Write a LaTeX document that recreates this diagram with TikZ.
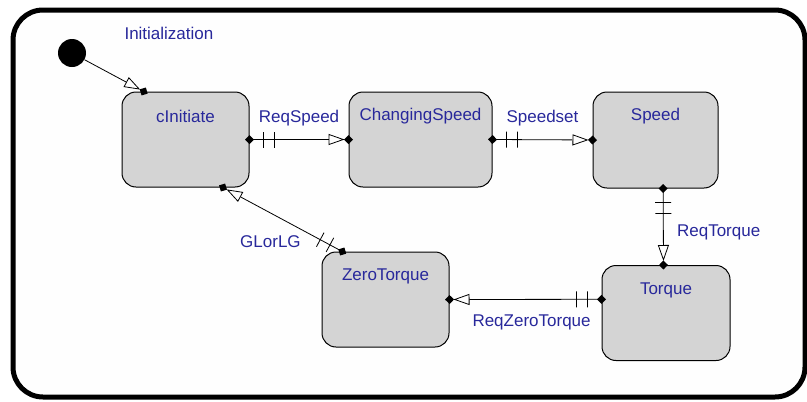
\documentclass[tikz,border=0pt]{standalone}
\usepackage{fontspec}
\setmainfont{Liberation Sans}
\usepackage{xcolor}
\usepackage{tikz}
\usetikzlibrary{arrows.meta, decorations.markings}

\definecolor{txtblue}{RGB}{40,40,155}
\definecolor{stategray}{RGB}{212,212,212}

\begin{document}
\begin{tikzpicture}[x=1pt, y=-1pt,
    every node/.style={font=\fontsize{17}{20}\selectfont, text=txtblue},
    state/.style={draw=black, line width=1pt, fill=stategray, rounded corners=14pt,
      minimum width=127pt, minimum height=95pt, inner sep=0pt},
    trans/.style={line width=0.8pt, -{Triangle[open, length=16pt, width=11pt, line width=0.8pt]},
      shorten >=4pt,
      postaction={decorate, decoration={markings,
        mark=at position 1 with {\fill[black] (-4.5pt,0) -- (0,4.5pt) -- (4.5pt,0) -- (0,-4.5pt) -- cycle;}}}},
    guard/.style={trans,
      postaction={decorate, decoration={markings,
        mark=at position 0 with {\fill[black] (-4.5pt,0) -- (0,4.5pt) -- (4.5pt,0) -- (0,-4.5pt) -- cycle;},
        mark=at position 14pt with {\draw[-, shorten >=0pt, line width=0.8pt] (0,-8pt) -- (0,8pt);},
        mark=at position 25pt with {\draw[-, shorten >=0pt, line width=0.8pt] (0,-8pt) -- (0,8pt);}}}}
  ]
  \useasboundingbox (0,0) rectangle (807,402);
  % Frame
  \draw[line width=5pt, rounded corners=30pt, fill=white!99!gray] (13,10) rectangle (805,397);

  % Initial state
  \node[circle, fill=black, minimum size=28pt, inner sep=0pt] (init) at (72,53) {};
  \node[anchor=west] (initlbl) at (121,33) {Initialization};

  % States
  \node[state, label={[name=cInitiate-lbl, anchor=center, yshift=-25pt]north:cInitiate}] (cInitiate) at (185.5,139.5) {};
  \node[state, minimum width=143pt, label={[name=ChangingSpeed-lbl, anchor=center, yshift=-25pt]north:ChangingSpeed}] (ChangingSpeed) at (420.5,139.5) {};
  \node[state, minimum width=125pt, minimum height=96pt, label={[name=Speed-lbl, anchor=center, yshift=-25pt]north:Speed}] (Speed) at (655.5,140) {};
  \node[state, minimum width=128pt, label={[name=Torque-lbl, anchor=center, yshift=-25pt]north:Torque}] (Torque) at (666,313) {};
  \node[state, label={[name=ZeroTorque-lbl, anchor=center, yshift=-25pt]north:ZeroTorque}] (ZeroTorque) at (385.5,299.5) {};

  % Transitions
  \draw[trans] (init) -- (cInitiate.131);
  \draw[guard] (cInitiate.east) -- node[above=10pt] (ReqSpeed) {ReqSpeed} (ChangingSpeed.west);
  \draw[guard] (ChangingSpeed.east) -- node[above=10pt] (Speedset) {Speedset} (Speed.west);
  \draw[guard] (Speed.-81.5) -- node[pos=0.57, right=10pt] (ReqTorque) {ReqTorque} (Torque.93.5);
  \draw[guard] (Torque.168.5) -- node[pos=0.46, below=12pt] (ReqZeroTorque) {ReqZeroTorque} (ZeroTorque.east);
  \draw[guard] (ZeroTorque.132) -- node[pos=0.2, left=14pt, yshift=-3pt] (GLorLG) {GLorLG} (cInitiate.-52);
\end{tikzpicture}
\end{document}
